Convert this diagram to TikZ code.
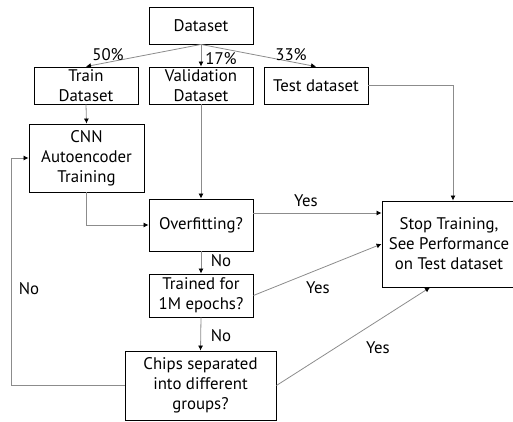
\documentclass[tikz,border=0pt]{standalone}
\usepackage{fontspec}
\setmainfont{PT Sans}
\usetikzlibrary{arrows.meta}

\begin{document}
\begin{tikzpicture}[x=1pt,y=-1pt,
        font=\fontsize{16.8}{20}\selectfont,
        box/.style={draw,line width=0.9pt,align=center,inner sep=0pt},
        link/.style={draw=black!45,line width=0.8pt,-{Latex[length=5pt,width=5pt,color=black]}},
        tag/.style={inner sep=0pt}]
        \path[use as bounding box] (0,0) rectangle (513,422);
        \clip (0,0) rectangle (513,422);

        \node[box,minimum width=104pt,minimum height=37pt] (data) at (201,25.5) {Dataset};
        \node[box,minimum width=104pt,minimum height=37pt] (train) at (86,85.5) {Train\\Dataset};
        \node[box,minimum width=104pt,minimum height=37pt] (valid) at (201,85.5) {Validation\\Dataset};
        \node[box,minimum width=104pt,minimum height=37pt] (test) at (316,85.5) {Test dataset};
        \node[box,minimum width=115pt,minimum height=68pt] (cnn) at (86.5,158) {CNN\\Autoencoder\\Training};
        \node[box,minimum width=104pt,minimum height=52pt] (over) at (201,225) {Overfitting?};
        \node[box,minimum width=104pt,minimum height=43pt] (epochs) at (201,295.5) {Trained for\\1M epochs?};
        \node[box,minimum width=151pt,minimum height=69pt] (chips) at (200.5,385.5) {Chips separated\\into different\\groups?};
        \node[box,minimum width=134pt,minimum height=86pt] (stop) at (449,244) {Stop Training,\\See Performance\\on Test dataset};

        % split of the data
        \draw[link] (data.south) -- (train.north);
        \draw[link] (data.south) -- (valid.north);
        \draw[link] (data.south) -- (test.north);
        \node[tag] (p50) at (108,55) {50\%};
        \node[tag] (p17) at (221,59) {17\%};
        \node[tag] (p33) at (291,55) {33\%};

        \draw[link] (train.south) -- (cnn.north);
        \draw[link] (valid.south) -- (over.north);
        \draw[link] (test.east) -| ([xshift=4pt]stop.north);
        \draw[link] (cnn.south) |- (over.west);

        % decisions
        \coordinate (yes1) at ([yshift=12pt]over.east);
        \draw[link] (yes1) -- (yes1 -| stop.west);
        \node[tag] (y1) at (306,201) {Yes};
        \draw[link] (over.south) -- (epochs.north);
        \node[tag] (n1) at (221,261) {No};
        \draw[link] (epochs.east) -- (stop.west);
        \node[tag] (y2) at (318,288) {Yes};
        \draw[link] (epochs.south) -- (chips.north);
        \node[tag] (n2) at (221,336) {No};
        \draw[link] (chips.east) -- ([xshift=-19pt]stop.south);
        \node[tag] (y3) at (378,348) {Yes};

        % back to training
        \coordinate (back) at ([xshift=-17pt]cnn.west);
        \draw[link] (chips.west) -| (back) -- (cnn.west);
        \node[tag] (n3) at (29,289) {No};
\end{tikzpicture}
\end{document}
